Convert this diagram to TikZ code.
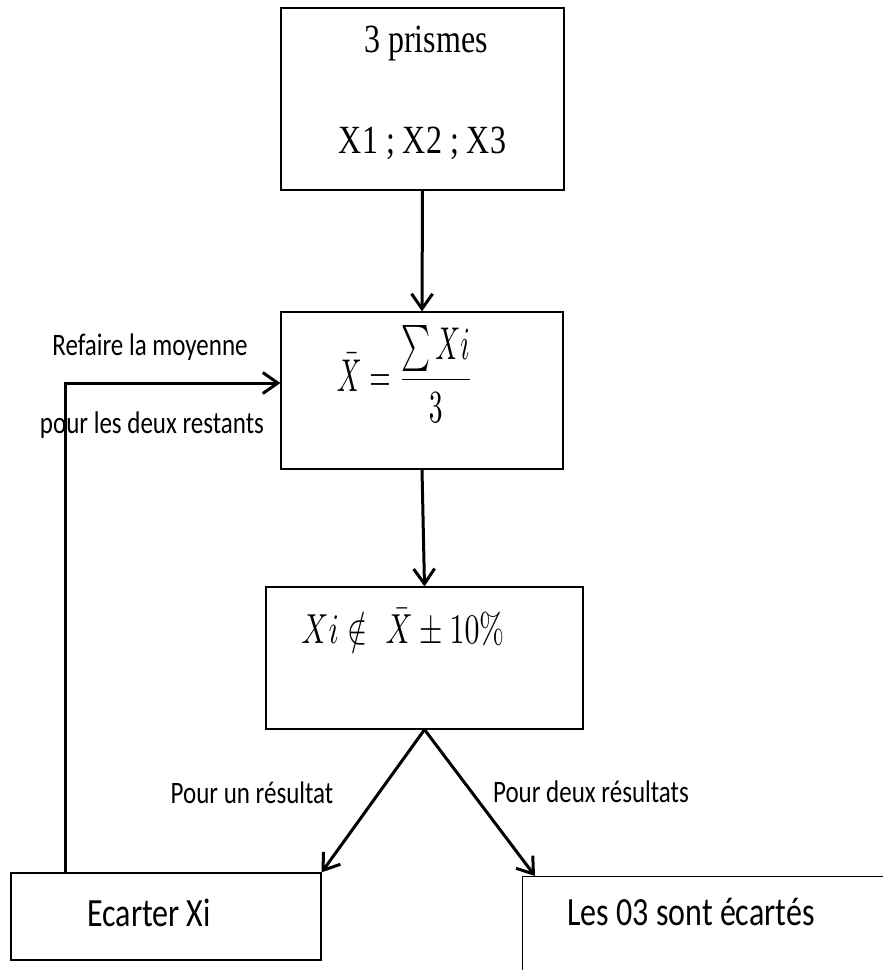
\documentclass[tikz,border=0pt]{standalone}
\usepackage{fontspec}
\newfontfamily\calib{Carlito}
\newfontfamily\tnr{Liberation Serif}
\usetikzlibrary{arrows.meta,calc}
\newcommand{\vst}[1]{\scalebox{1}[1.25]{#1}}
\newcommand{\bigmath}[3]{\scalebox{#1}[#2]{#3}}
\begin{document}
\begin{tikzpicture}[x=1pt,y=-1pt,
  box/.style={draw, line width=1.2pt, inner sep=0pt},
  conn/.style={line width=3pt, -{Straight Barb[length=15pt,width=21pt]}},
  lbl/.style={inner sep=0pt, font=\calib\fontsize{25}{30}\selectfont},
  big/.style={inner sep=0pt, font=\calib\fontsize{32}{38}\selectfont},
  serif/.style={inner sep=0pt, font=\tnr\fontsize{32}{38}\selectfont},
  eq/.style={inner sep=0pt}]
\useasboundingbox (0,0) rectangle (883,970);

% boxes
\node[box, minimum width=283pt, minimum height=182pt] (b1) at (422.5,99) {};
\node[box, minimum width=282pt, minimum height=157pt] (b2) at (422,390.5) {};
\node[box, minimum width=317pt, minimum height=142pt] (b3) at (424.5,658) {};
\node[box, minimum width=310pt, minimum height=87pt] (b4) at (166,916.5) {};
\begin{scope}
  \clip (0,0) rectangle (883,970);
  \node[box, anchor=north west, minimum width=420pt, minimum height=130pt] (b5) at (522,876) {};
\end{scope}

% texts
\node[serif] (t1a) at (426,44) {\vst{3 prismes}};
\node[serif] (t1b) at (422.5,143) {\vst{X1 ; X2 ; X3}};
\node[eq] (t2) at (405,374) {\bigmath{2.75}{4.6}{$\displaystyle \bar{X}=\frac{\sum Xi}{3}$}};
\node[eq] (t3) at (403,628) {\bigmath{3}{4.2}{$Xi\notin\ \bar{X}\pm 10\%$}};
\node[big] (t4) at (149,913) {\vst{Ecarter Xi}};
\node[big] (t5) at (691,912) {\vst{Les 03 sont écartés}};

% labels
\node[lbl] (l1) at (150,347) {\vst{Refaire la moyenne}};
\node[lbl] (l2) at (152,425) {\vst{pour les deux restants}};
\node[lbl] (l3) at (252,793) {\vst{Pour un résultat}};
\node[lbl] (l4) at (591,792) {\vst{Pour deux résultats}};

% connectors
\draw[conn] (b1.south) -- (b2.north);
\draw[conn] (b2.south) -- (b3.north);
\draw[conn] (b3.south) -- (b4.north east);
\draw[conn] (b3.south) -- ($(b5.north west)+(13,0)$);
\draw[conn] ($(b4.north west)+(55,0)$) |- ($(b2.west)+(0,-7.5)$);
\end{tikzpicture}
\end{document}
